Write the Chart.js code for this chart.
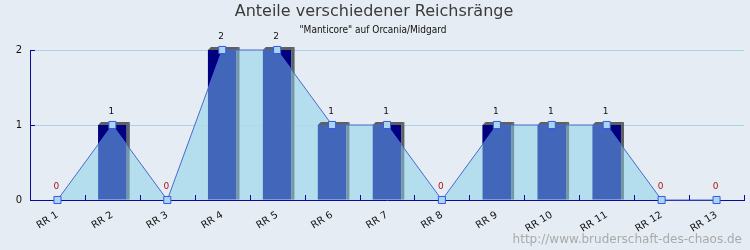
<!DOCTYPE html>
<html lang="de">
<head>
<meta charset="UTF-8">
<title>Anteile verschiedener Reichsränge</title>
<script src="https://cdn.jsdelivr.net/npm/chart.js"></script>
<style>
  html, body { margin: 0; padding: 0; background: #e6ecf3; }
  #wrap { width: 750px; height: 250px; }
</style>
</head>
<body>
<div id="wrap"><canvas id="rangChart" width="750" height="250"></canvas></div>

<script>
// Daten
const categories = ['RR 1', 'RR 2', 'RR 3', 'RR 4', 'RR 5', 'RR 6', 'RR 7', 'RR 8', 'RR 9', 'RR 10', 'RR 11', 'RR 12', 'RR 13'];
const counts = [0, 1, 0, 2, 2, 1, 1, 0, 1, 1, 1, 0, 0];
const yTicks = [0, 1, 2];
const titleText = 'Anteile verschiedener Reichsränge';
const subtitleText = '"Manticore" auf Orcania/Midgard';
const footerText = 'http://www.bruderschaft-des-chaos.de';

const NAVY = '#000080';
const AXIS = '#0a0a9e';

// Bereich oberhalb der Linie als Pfad
function aboveLine(ctx, chart) {
  const pts = chart.getDatasetMeta(2).data;
  const area = chart.chartArea;
  ctx.beginPath();
  ctx.moveTo(area.left, area.top - 30);
  ctx.lineTo(area.left, pts[0].y);
  pts.forEach(p => ctx.lineTo(p.x, p.y));
  ctx.lineTo(area.right, pts[pts.length - 1].y);
  ctx.lineTo(area.right, area.top - 30);
  ctx.closePath();
}

const deko = {
  id: 'deko',
  afterDatasetDraw(chart, args) {
    if (args.index !== 1) return;
    const ctx = chart.ctx;
    const d = 3;
    chart.getDatasetMeta(1).data.forEach((bar, i) => {
      if (!counts[i]) return;
      const l = bar.x - bar.width / 2, r = bar.x + bar.width / 2;
      const t = bar.y, b = bar.base;
      // dunkler Teil über der Linie
      ctx.save();
      ctx.beginPath();
      ctx.rect(l, t, r - l, b - t);
      ctx.clip();
      aboveLine(ctx, chart);
      ctx.fillStyle = NAVY;
      ctx.fill();
      ctx.restore();
      // Seite
      ctx.save();
      ctx.beginPath();
      ctx.moveTo(r, t);
      ctx.lineTo(r + d, t - d);
      ctx.lineTo(r + d, b);
      ctx.lineTo(r, b);
      ctx.closePath();
      ctx.fillStyle = '#7698a6';
      ctx.fill();
      ctx.clip();
      aboveLine(ctx, chart);
      ctx.fillStyle = '#606263';
      ctx.fill();
      ctx.restore();
      // Deckel
      ctx.beginPath();
      ctx.moveTo(l, t);
      ctx.lineTo(l + d, t - d);
      ctx.lineTo(r + d, t - d);
      ctx.lineTo(r, t);
      ctx.closePath();
      ctx.fillStyle = '#5f5f5f';
      ctx.fill();
    });
  },
  afterDatasetsDraw(chart) {
    const ctx = chart.ctx;
    const xs = chart.scales.x, ys = chart.scales.y;
    const area = chart.chartArea;
    // kleine Striche nach innen
    ctx.save();
    ctx.strokeStyle = AXIS;
    ctx.lineWidth = 1;
    ctx.beginPath();
    const step = xs.getPixelForValue(1) - xs.getPixelForValue(0);
    for (let i = 0; i < categories.length; i++) {
      const x = Math.round(xs.getPixelForValue(i) + step / 2) + 0.5;
      ctx.moveTo(x, area.bottom);
      ctx.lineTo(x, area.bottom - 5);
    }
    yTicks.forEach(v => {
      const y = Math.round(ys.getPixelForValue(v)) + 0.5;
      ctx.moveTo(area.left, y);
      ctx.lineTo(area.left + 5, y);
    });
    ctx.stroke();
    ctx.restore();
    // Werte über den Punkten
    ctx.save();
    ctx.font = '9px "DejaVu Sans"';
    ctx.textAlign = 'center';
    ctx.textBaseline = 'middle';
    chart.getDatasetMeta(2).data.forEach((p, i) => {
      ctx.fillStyle = counts[i] === 0 ? '#b01414' : '#111';
      ctx.fillText(String(counts[i]), p.x - 1, p.y - 13);
    });
    ctx.restore();
  },
  afterDraw(chart) {
    const ctx = chart.ctx;
    ctx.save();
    ctx.textAlign = 'center';
    ctx.textBaseline = 'middle';
    ctx.fillStyle = '#3a3a3a';
    ctx.font = '16px "DejaVu Sans"';
    ctx.fillText(titleText, 374, 12);
    ctx.fillStyle = '#111';
    ctx.font = '10px "DejaVu Sans Condensed", "DejaVu Sans"';
    ctx.fillText(subtitleText, 373, 30);
    ctx.textAlign = 'right';
    ctx.fillStyle = '#aaaaaa';
    ctx.font = '12px "DejaVu Sans"';
    ctx.fillText(footerText, 742, 240);
    ctx.restore();
  }
};

const ctx = document.getElementById('rangChart').getContext('2d');
const chart = new Chart(ctx, {
  data: {
    labels: categories,
    datasets: [
      {
        type: 'line',
        data: counts,
        order: 3,
        fill: 'origin',
        backgroundColor: 'rgba(170, 218, 236, 0.85)',
        borderWidth: 0,
        pointRadius: 0,
        tension: 0
      },
      {
        type: 'bar',
        data: counts,
        order: 2,
        backgroundColor: '#4166ba',
        barPercentage: 0.52,
        categoryPercentage: 1
      },
      {
        type: 'line',
        data: counts,
        order: 1,
        clip: false,
        fill: false,
        borderColor: '#4a68cc',
        borderWidth: 1,
        tension: 0,
        pointStyle: 'rect',
        pointRadius: 5,
        pointBorderWidth: 1,
        pointBorderColor: '#3559e6',
        pointBackgroundColor: '#a9d6ee'
      }
    ]
  },
  options: {
    responsive: false,
    animation: false,
    devicePixelRatio: 1,
    layout: { padding: { top: 50, right: 5, left: 0, bottom: 0 } },
    plugins: {
      legend: { display: false },
      tooltip: { enabled: false },
      title: { display: false }
    },
    scales: {
      x: {
        offset: true,
        grid: { display: false, drawTicks: false },
        border: { color: AXIS, width: 1 },
        ticks: {
          autoSkip: false,
          maxRotation: 32,
          minRotation: 32,
          padding: 9,
          color: '#111',
          font: { family: 'DejaVu Sans', size: 10 }
        },
        afterFit(scale) { scale.height = 50; }
      },
      y: {
        min: 0,
        max: 2,
        grid: { color: '#a6d5e9', drawTicks: false },
        border: { color: AXIS, width: 1 },
        ticks: {
          stepSize: 1,
          padding: 8,
          color: '#111',
          font: { family: 'DejaVu Sans', size: 10 }
        },
        afterFit(scale) { scale.width = 30; }
      }
    }
  },
  plugins: [deko]
});
</script>
</body>
</html>
